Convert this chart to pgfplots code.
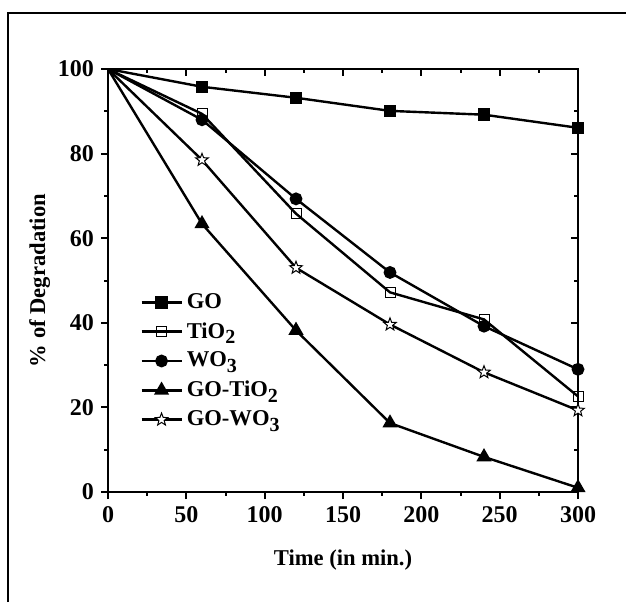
\documentclass[border=0pt]{standalone}
\usepackage{fontspec}
\setmainfont{Liberation Serif}
\usepackage{pgfplots}
\pgfplotsset{compat=1.18}
\newcommand\sub[1]{\raisebox{-0.55ex}{\fontsize{10}{10}\selectfont #1}}
% open five-pointed star
\pgfdeclareplotmark{ostar}{%
  \pgfpathmoveto{\pgfpointpolar{90}{\pgfplotmarksize}}%
  \foreach \a in {126,198,270,342} {%
    \pgfpathlineto{\pgfpointpolar{\a}{0.42\pgfplotmarksize}}%
    \pgfpathlineto{\pgfpointpolar{\a+36}{\pgfplotmarksize}}%
  }%
  \pgfpathlineto{\pgfpointpolar{54}{0.42\pgfplotmarksize}}%
  \pgfpathclose
  \pgfusepathqfillstroke
}
\pgfplotsset{
  frameax/.style={
    scale only axis, width=235pt, height=211.5pt,
    at={(54pt,55pt)}, anchor=south west,
    xmin=0, xmax=300, ymin=0, ymax=100,
    xtick={0,50,...,300}, ytick={0,20,...,100},
    minor x tick num=1, minor y tick num=1,
    major tick length=3.5pt, minor tick length=1.8pt,
    every tick/.style={line width=1pt, black},
    axis line style={line width=1.2pt},
    /pgf/number format/assume math mode=true,
    tick label style={font=\fontsize{12}{13}\selectfont\bfseries},
    label style={font=\fontsize{11.3}{13}\selectfont\bfseries},
  },
}
\begin{document}
\begin{tikzpicture}
\path[use as bounding box] (0,0) rectangle (313pt,301pt);
\draw[line width=1.3pt] (4pt,0) -- (4pt,294.5pt) -- (313pt,294.5pt);

% mirrored ticks on top and right point inward
\begin{axis}[frameax, xtick pos=right, ytick pos=right, tick align=inside,
  xticklabels={}, yticklabels={}]
\end{axis}

\begin{axis}[frameax, xtick pos=left, ytick pos=left, tick align=outside,
  xlabel={Time (in min.)}, ylabel={\% of Degradation},
  xlabel style={yshift=-7pt}, ylabel style={yshift=-3pt},
  legend cell align=left,
  legend style={draw=none, fill=none, at={(0.068,0.48)}, anchor=north west,
    inner sep=0pt, row sep=1.5pt, font=\fontsize{11.3}{13}\selectfont\bfseries},
  legend image code/.code={\draw[mark indices={2}]
    plot coordinates {(0pt,0pt)(10pt,0pt)(20pt,0pt)};},
  every axis plot/.append style={black, line width=1.2pt, mark indices={2,...,6}},
]
\addplot[mark=square*, mark size=2.5pt] coordinates {(0,100)(60,95.8)(120,93.2)(180,90.1)(240,89.2)(300,86.1)};
\addplot[mark=square, mark size=2.5pt, mark options={line width=0.5pt, fill=white}] coordinates {(0,100)(60,89.4)(120,65.8)(180,47.2)(240,40.8)(300,22.6)};
\addplot[mark=*, mark size=2.6pt] coordinates {(0,100)(60,88)(120,69.3)(180,51.9)(240,39.2)(300,29)};
\addplot[mark=triangle*, mark size=3.2pt] coordinates {(0,100)(60,63.4)(120,38.2)(180,16.3)(240,8.3)(300,1)};
\addplot[mark=ostar, mark size=3.3pt, mark options={line width=0.5pt, fill=white}] coordinates {(0,100)(60,78.5)(120,53)(180,39.6)(240,28.3)(300,19.3)};
\legend{GO, TiO\sub{2}, WO\sub{3}, GO-TiO\sub{2}, GO-WO\sub{3}}
\end{axis}
\end{tikzpicture}
\end{document}
